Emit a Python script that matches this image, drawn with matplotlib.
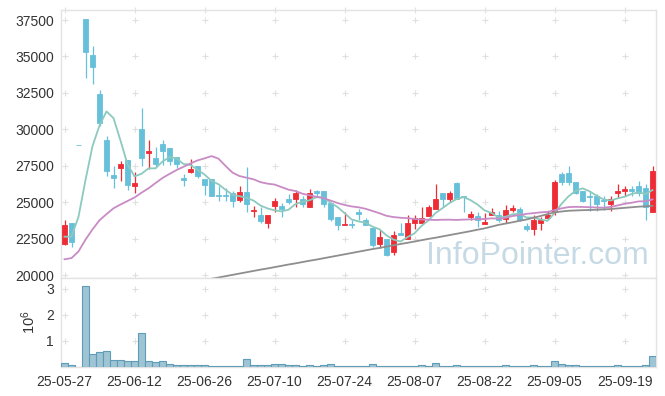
import numpy as np
import pandas as pd
import matplotlib
matplotlib.use('Agg')
import matplotlib.pyplot as plt

# ---------------- data ----------------
holidays = ['2025-06-03', '2025-06-06', '2025-08-15']
dates = pd.bdate_range('2025-05-27', '2025-09-25', freq='C', holidays=holidays)

open_ = [22100, 23550, 28950, 37600, 35100, 32400, 29300, 26850, 27350, 27900,
         26100, 30000, 28350, 28050, 29000, 28750, 28100, 26650, 27050, 27500,
         26600, 26600, 25500, 25500, 25650, 25150, 25700, 24380, 24100, 23600,
         24750, 24750, 25250, 25250, 25250, 24700, 25750, 25750, 24950, 23950,
         23400, 23500, 24350, 23750, 23250, 22150, 22450, 21550, 22850, 22500,
         23550, 23600, 24050, 24500, 25650, 25250, 26300, 25450, 24000, 24050,
         23500, 24150, 24100, 23850, 24450, 24550, 23350, 23150, 23600, 23900,
         24350, 26950, 27000, 26400, 25800, 25450, 25400, 25150, 24850, 25650,
         25750, 25900, 26100, 25950, 24350]
high = [23750, 23600, 28950, 37600, 35700, 32700, 29550, 27450, 27800, 27900,
        27100, 31450, 29250, 28800, 29300, 28750, 28100, 26900, 27950, 27500,
        26600, 26600, 26100, 25950, 25800, 26100, 27400, 24750, 24700, 24150,
        25300, 24950, 25550, 25850, 25450, 25900, 25850, 25750, 24950, 23950,
        24350, 23750, 24500, 23900, 23250, 23100, 22450, 23050, 23550, 24100,
        24150, 24650, 24800, 26250, 25650, 25800, 26400, 25450, 24400, 24300,
        24250, 24600, 24400, 24800, 24800, 24700, 23550, 24100, 24000, 24400,
        26500, 27100, 27450, 26400, 25800, 25750, 25550, 25450, 25450, 26250,
        26100, 26100, 26450, 26250, 27500]
low = [22050, 21950, 28950, 33550, 33100, 30200, 26800, 26000, 26450, 25850,
       25600, 27500, 27300, 27400, 27550, 27550, 27350, 26100, 27000, 26650,
       25500, 25450, 25050, 25050, 24650, 25000, 24300, 24000, 23600, 23200,
       24350, 23950, 24850, 24650, 24650, 24700, 25400, 24700, 23700, 23100,
       23400, 23250, 23750, 23400, 21950, 21850, 21300, 21350, 22750, 22450,
       23150, 23600, 24050, 24500, 24650, 25000, 25250, 24350, 23750, 23300,
       23500, 24150, 23650, 23600, 24350, 23700, 23000, 22750, 23100, 23850,
       24150, 26200, 26200, 25550, 25000, 24400, 24400, 24450, 24400, 25300,
       25450, 25450, 25450, 23750, 24350]
close = [23400, 22300, 28950, 35300, 34300, 30450, 27150, 26650, 27600, 26150,
         26300, 28050, 28500, 27600, 28500, 27800, 27650, 26550, 27300, 26800,
         26200, 25450, 25400, 25400, 25100, 25700, 24900, 24450, 23700, 24100,
         25050, 24550, 25000, 25650, 24850, 25600, 25600, 24900, 23850, 23400,
         23500, 23450, 24200, 23400, 22050, 22600, 21350, 22750, 22750, 23550,
         23900, 23900, 24650, 25250, 25250, 25650, 25250, 25350, 24200, 23750,
         23650, 24350, 23800, 24450, 24600, 23750, 23150, 23750, 23800, 24150,
         26350, 26350, 26350, 25650, 25050, 25350, 24850, 25050, 25250, 25800,
         25900, 25800, 25650, 24650, 27150]
# closes of the 19 sessions before the window (needed for the moving averages)
prior_close = [20700, 19750, 19100, 20300, 17850, 18750, 18650, 22400, 21350, 21500,
               21450, 22500, 20400, 21500, 22250, 22300, 22100, 22700, 22650]
# long moving average
ma_long = [np.nan] * 20 + [
    19650, 19740, 19830, 19920, 20010, 20100, 20190, 20280, 20370, 20450,
    20540, 20630, 20720, 20800, 20890, 20980, 21060, 21150, 21240, 21330,
    21420, 21510, 21600, 21690, 21780, 21860, 21950, 22040, 22130, 22210,
    22300, 22390, 22480, 22560, 22650, 22740, 22830, 22920, 23010, 23110,
    23200, 23320, 23440, 23530, 23620, 23720, 23810, 23930, 24050, 24180,
    24300, 24360, 24410, 24430, 24450, 24460, 24480, 24500, 24530, 24570,
    24610, 24650, 24690, 24720, 24750]
volume_m = [0.14, 0.07, 0.0, 3.12, 0.50, 0.58, 0.62, 0.27, 0.27, 0.23,
            0.23, 1.31, 0.23, 0.19, 0.23, 0.12, 0.08, 0.08, 0.08, 0.08,
            0.08, 0.04, 0.04, 0.04, 0.04, 0.04, 0.31, 0.08, 0.08, 0.08,
            0.12, 0.12, 0.08, 0.08, 0.04, 0.08, 0.04, 0.08, 0.12, 0.04,
            0.04, 0.04, 0.04, 0.04, 0.10, 0.04, 0.04, 0.04, 0.04, 0.04,
            0.04, 0.06, 0.03, 0.14, 0.03, 0.03, 0.06, 0.03, 0.03, 0.03,
            0.03, 0.03, 0.03, 0.06, 0.03, 0.03, 0.03, 0.06, 0.03, 0.03,
            0.23, 0.10, 0.06, 0.06, 0.03, 0.03, 0.03, 0.03, 0.03, 0.06,
            0.03, 0.03, 0.03, 0.06, 0.42]
price_ticks = [20000, 22500, 25000, 27500, 30000, 32500, 35000, 37500]
vol_ticks = [1, 2, 3]
tick_every = 10

# ---------------- styling ----------------
FONT = ['Liberation Sans', 'DejaVu Sans']
plt.rcParams['font.family'] = FONT
UP = '#ee2c35'
DOWN = '#66c0da'
MA5_C = '#8ccabf'
MA20_C = '#c98bc6'
MAL_C = '#8e8e8e'
GRID_C = '#e0e0e0'
SPINE_C = '#e3e3e3'
TXT_C = '#333333'

n = len(close)
x = np.arange(n)
o = np.array(open_, float); h = np.array(high, float)
l = np.array(low, float); c = np.array(close, float)
full = pd.Series(prior_close + close, dtype=float)
ma5 = full.rolling(5).mean().values[len(prior_close):]
ma20 = full.rolling(20).mean().values[len(prior_close):]

fig = plt.figure(figsize=(6.65, 3.96), dpi=100)
W, H = 665, 396
L, R = 61, 656
ax = fig.add_axes([L / W, 1 - 278 / H, (R - L) / W, (278 - 10) / H])
axv = fig.add_axes([L / W, 1 - 367 / H, (R - L) / W, (367 - 278) / H], sharex=ax)

colors = np.where(c > o, UP, DOWN)
ax.vlines(x, l, h, colors=colors, linewidth=0.9, zorder=2)
bottoms = np.minimum(o, c)
heights = np.abs(c - o)
ax.bar(x, heights, bottom=bottoms, width=0.62, color=colors, edgecolor=colors,
       linewidth=0.6, zorder=3)

ax.plot(x, ma5, color=MA5_C, lw=1.3, zorder=4)
ax.plot(x, ma20, color=MA20_C, lw=1.3, zorder=4)
ax.plot(x, ma_long, color=MAL_C, lw=1.3, zorder=4)

ax.set_xlim(-0.5, n - 0.5)
ax.set_ylim(19795, 38190)
ax.set_yticks(price_ticks)
ax.set_yticklabels([str(v) for v in price_ticks])

ax.text(0.987, 0.052, 'InfoPointer.com', transform=ax.transAxes, ha='right',
        va='baseline', fontsize=23, color='#c6dae5', zorder=1, family=FONT)

# volume
axv.bar(x, np.array(volume_m) * 1e6, width=1.0, color='#9fc4d4',
        edgecolor='#5e9db8', linewidth=0.8, zorder=3)
axv.set_ylim(0, 3.42e6)
axv.set_yticks([v * 1e6 for v in vol_ticks])
axv.set_yticklabels([str(v) for v in vol_ticks])
axv.set_ylabel(r'$\mathregular{10^6}$', fontsize=10.5, color=TXT_C, labelpad=6)

tick_idx = list(range(0, n, tick_every))
axv.set_xticks(tick_idx)
axv.set_xticklabels([dates[i].strftime('%y-%m-%d') for i in tick_idx])

# grid "+" markers at tick intersections
gx, gy = np.meshgrid(tick_idx, price_ticks)
ax.plot(gx.ravel(), gy.ravel(), ls='none', marker='+', ms=4, mew=0.8,
        color=GRID_C, zorder=1)
ax.plot(tick_idx, [38190] * len(tick_idx), ls='none', marker='+', ms=4,
        mew=0.8, color=GRID_C, zorder=1, clip_on=False)
gx, gy = np.meshgrid(tick_idx, [v * 1e6 for v in vol_ticks])
axv.plot(gx.ravel(), gy.ravel(), ls='none', marker='+', ms=4, mew=0.8,
         color=GRID_C, zorder=1)

for a in (ax, axv):
    for s in a.spines.values():
        s.set_color(SPINE_C)
        s.set_linewidth(1.0)
    a.tick_params(length=0, labelsize=10, colors=TXT_C, pad=5)
ax.tick_params(axis='x', labelbottom=False)
axv.tick_params(axis='x', pad=6)

fig.savefig('out.png', dpi=100)
